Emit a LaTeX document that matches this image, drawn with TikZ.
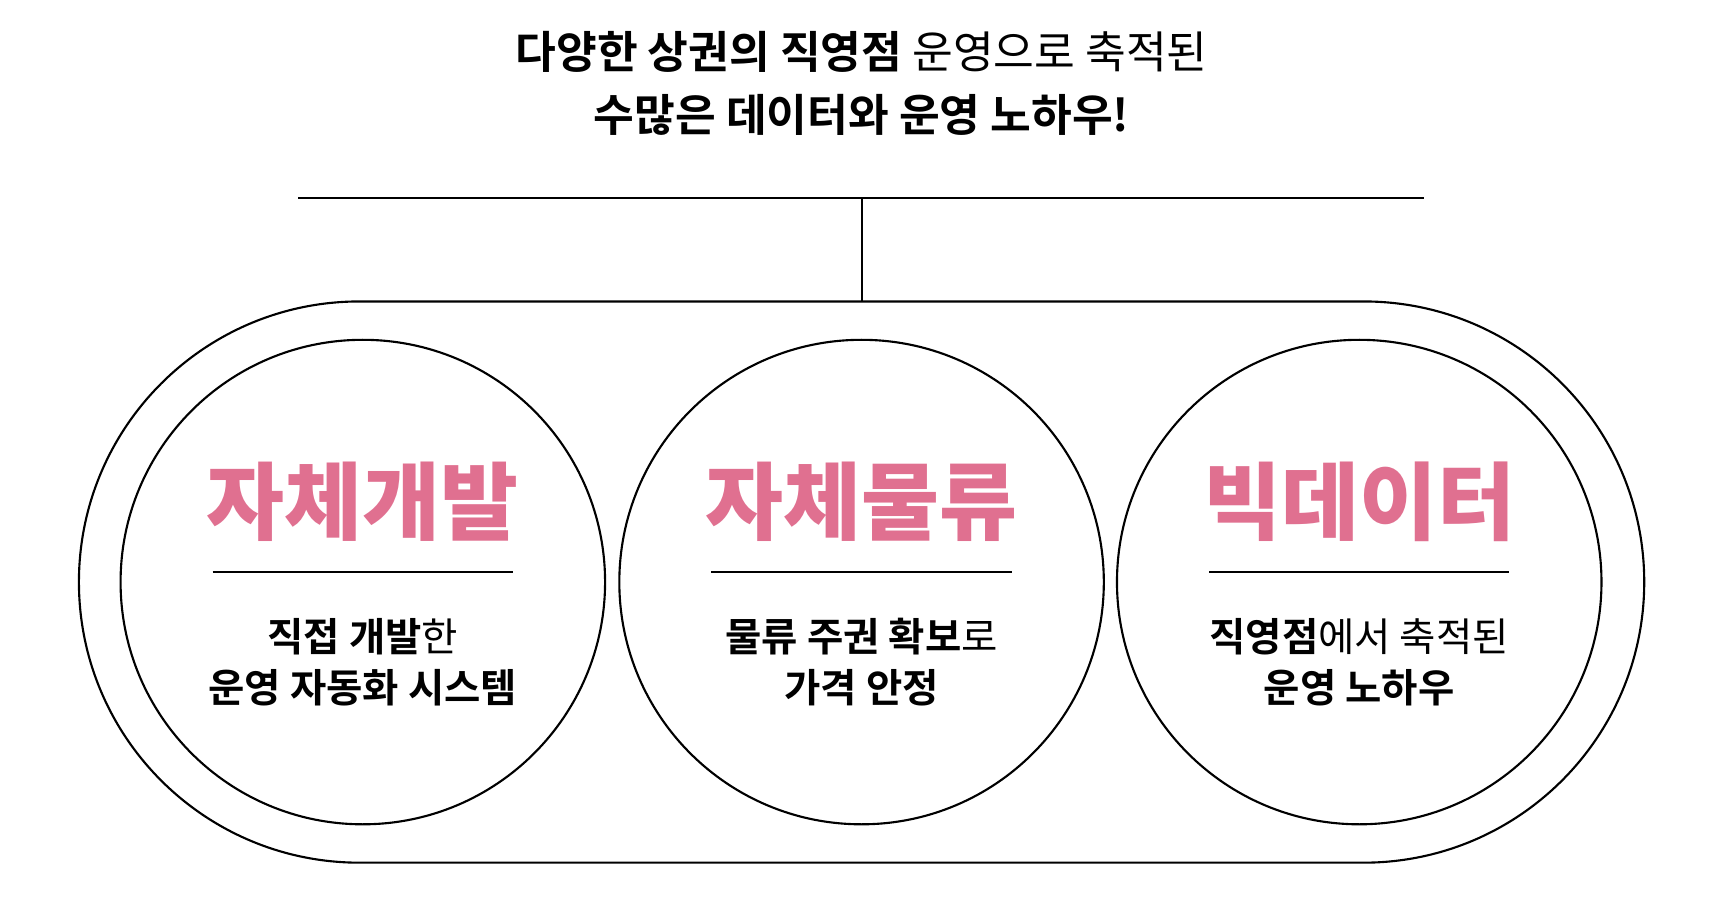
\documentclass[tikz,border=0pt]{standalone}
\usepackage{fontspec}
\setmainfont{Noto Sans CJK KR}
\newfontfamily\kbold{Noto Sans CJK KR Bold}
\newfontfamily\kblack{Noto Sans CJK KR Black}
\definecolor{pinkc}{HTML}{E07090}
\begin{document}
\begin{tikzpicture}[x=0.02cm,y=-0.02cm,
  ln/.style={line width=1.1pt},
  circ/.style={ln,circle,minimum size=442*0.02cm,inner sep=0},
  head/.style={text=pinkc,font=\fontsize{44}{48}\selectfont\kblack},
  body/.style={align=center,font=\fontsize{20.5}{26.6}\selectfont},
  ttl/.style={align=center,font=\fontsize{23}{33}\selectfont}]
\useasboundingbox (0,0) rectangle (1560,828);
\node[ttl] (title) at (786,76) {{\kbold 다양한 상권의 직영점} 운영으로 축적된\\{\kbold 수많은 데이터와 운영 노하우!}};
\coordinate (hl) at (272,181); \coordinate (hr) at (1299,181);
\coordinate (hm) at (786,181); \coordinate (vt) at (786,275);
\draw[ln] (hl) -- (hr); \draw[ln] (hm) -- (vt);
\draw[ln] (328,275) -- (1244,275) arc[start angle=90,end angle=-90,radius=256*0.02cm] -- (328,787) arc[start angle=270,end angle=90,radius=256*0.02cm] -- cycle;
\foreach \i/\x/\h/\b in {a/331/자체개발/{{\kbold 직접 개발}한\\{\kbold 운영 자동화 시스템}},b/786/자체물류/{{\kbold 물류 주권 확보}로\\{\kbold 가격 안정}},c/1240/빅데이터/{{\kbold 직영점}에서 축적된\\{\kbold 운영 노하우}}}{
  \node[circ,draw] (c\i) at (\x,531) {};
  \node[head] (h\i) at (\x,458) {\h};
  \coordinate (ul\i) at (\x-137,522); \coordinate (ur\i) at (\x+137,522);
  \draw[ln] (ul\i) -- (ur\i);
  \node[body] (t\i) at (\x,604) {\b};
}
\end{tikzpicture}
\end{document}
